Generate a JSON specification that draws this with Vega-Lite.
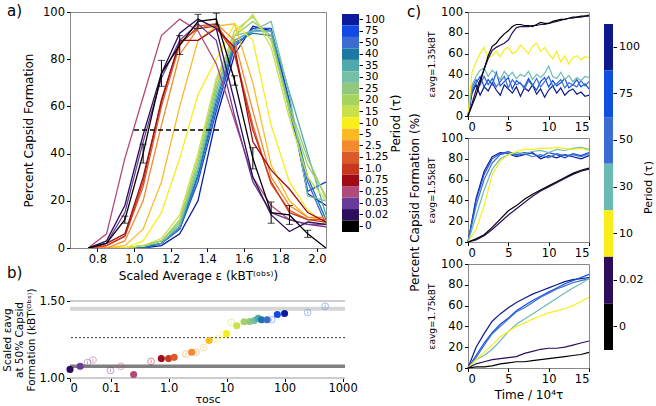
{
"$schema":"https://vega.github.io/schema/vega-lite/v6.json",
"padding":{"left":2,"top":3,"right":0,"bottom":0},
"config":{"font":"DejaVu Sans","view":{"stroke":"#888","strokeWidth":1},"axis":{"labelFontSize":11.5,"titleFontSize":12,"labelColor":"#000","titleColor":"#000","tickColor":"#000","domain":false,"grid":false,"titleFontWeight":"normal","tickSize":3.5,"labelPadding":2},"title":{"fontSize":15,"fontWeight":"normal","color":"#000"}},
"datasets":{
"a":[
{"p":"100","x":0.75,"y":0},{"p":"100","x":0.85,"y":0},{"p":"100","x":0.95,"y":0},{"p":"100","x":1.05,"y":0},{"p":"100","x":1.15,"y":1},{"p":"100","x":1.25,"y":6},{"p":"100","x":1.35,"y":20},{"p":"100","x":1.45,"y":55},{"p":"100","x":1.55,"y":82},{"p":"100","x":1.65,"y":94},{"p":"100","x":1.75,"y":92},{"p":"100","x":1.85,"y":62},{"p":"100","x":1.95,"y":23},{"p":"100","x":2.05,"y":18},
{"p":"75","x":0.75,"y":0},{"p":"75","x":0.85,"y":0},{"p":"75","x":0.95,"y":0},{"p":"75","x":1.05,"y":0},{"p":"75","x":1.15,"y":2},{"p":"75","x":1.25,"y":8},{"p":"75","x":1.35,"y":28},{"p":"75","x":1.45,"y":58},{"p":"75","x":1.55,"y":85},{"p":"75","x":1.65,"y":93},{"p":"75","x":1.75,"y":93},{"p":"75","x":1.85,"y":62},{"p":"75","x":1.95,"y":24},{"p":"75","x":2.05,"y":28},
{"p":"50","x":0.75,"y":0},{"p":"50","x":0.85,"y":0},{"p":"50","x":0.95,"y":0},{"p":"50","x":1.05,"y":0},{"p":"50","x":1.15,"y":2},{"p":"50","x":1.25,"y":8},{"p":"50","x":1.35,"y":30},{"p":"50","x":1.45,"y":60},{"p":"50","x":1.55,"y":86},{"p":"50","x":1.65,"y":92},{"p":"50","x":1.75,"y":92},{"p":"50","x":1.85,"y":58},{"p":"50","x":1.95,"y":28},{"p":"50","x":2.05,"y":10},
{"p":"40","x":0.75,"y":0},{"p":"40","x":0.85,"y":0},{"p":"40","x":0.95,"y":0},{"p":"40","x":1.05,"y":0},{"p":"40","x":1.15,"y":2},{"p":"40","x":1.25,"y":9},{"p":"40","x":1.35,"y":31},{"p":"40","x":1.45,"y":62},{"p":"40","x":1.55,"y":87},{"p":"40","x":1.65,"y":91},{"p":"40","x":1.75,"y":90},{"p":"40","x":1.85,"y":60},{"p":"40","x":1.95,"y":30},{"p":"40","x":2.05,"y":12},
{"p":"35","x":0.75,"y":0},{"p":"35","x":0.85,"y":0},{"p":"35","x":0.95,"y":0},{"p":"35","x":1.05,"y":1},{"p":"35","x":1.15,"y":2},{"p":"35","x":1.25,"y":9},{"p":"35","x":1.35,"y":33},{"p":"35","x":1.45,"y":64},{"p":"35","x":1.55,"y":88},{"p":"35","x":1.65,"y":92},{"p":"35","x":1.75,"y":92},{"p":"35","x":1.85,"y":66},{"p":"35","x":1.95,"y":40},{"p":"35","x":2.05,"y":14},
{"p":"30","x":0.75,"y":0},{"p":"30","x":0.85,"y":0},{"p":"30","x":0.95,"y":0},{"p":"30","x":1.05,"y":1},{"p":"30","x":1.15,"y":3},{"p":"30","x":1.25,"y":10},{"p":"30","x":1.35,"y":34},{"p":"30","x":1.45,"y":66},{"p":"30","x":1.55,"y":90},{"p":"30","x":1.65,"y":92},{"p":"30","x":1.75,"y":96},{"p":"30","x":1.85,"y":65},{"p":"30","x":1.95,"y":22},{"p":"30","x":2.05,"y":20},
{"p":"25","x":0.75,"y":0},{"p":"25","x":0.85,"y":0},{"p":"25","x":0.95,"y":0},{"p":"25","x":1.05,"y":1},{"p":"25","x":1.15,"y":3},{"p":"25","x":1.25,"y":11},{"p":"25","x":1.35,"y":36},{"p":"25","x":1.45,"y":68},{"p":"25","x":1.55,"y":90},{"p":"25","x":1.65,"y":96},{"p":"25","x":1.75,"y":90},{"p":"25","x":1.85,"y":60},{"p":"25","x":1.95,"y":38},{"p":"25","x":2.05,"y":21},
{"p":"20","x":0.75,"y":0},{"p":"20","x":0.85,"y":0},{"p":"20","x":0.95,"y":0},{"p":"20","x":1.05,"y":1},{"p":"20","x":1.15,"y":3},{"p":"20","x":1.25,"y":12},{"p":"20","x":1.35,"y":38},{"p":"20","x":1.45,"y":70},{"p":"20","x":1.55,"y":92},{"p":"20","x":1.65,"y":98},{"p":"20","x":1.75,"y":88},{"p":"20","x":1.85,"y":58},{"p":"20","x":1.95,"y":35},{"p":"20","x":2.05,"y":22},
{"p":"15","x":0.75,"y":0},{"p":"15","x":0.85,"y":0},{"p":"15","x":0.95,"y":0},{"p":"15","x":1.05,"y":1},{"p":"15","x":1.15,"y":4},{"p":"15","x":1.25,"y":14},{"p":"15","x":1.35,"y":40},{"p":"15","x":1.45,"y":72},{"p":"15","x":1.55,"y":90},{"p":"15","x":1.65,"y":99},{"p":"15","x":1.75,"y":85},{"p":"15","x":1.85,"y":55},{"p":"15","x":1.95,"y":30},{"p":"15","x":2.05,"y":20},
{"p":"10","x":0.75,"y":0},{"p":"10","x":0.85,"y":0},{"p":"10","x":0.95,"y":0},{"p":"10","x":1.05,"y":3},{"p":"10","x":1.15,"y":15},{"p":"10","x":1.25,"y":38},{"p":"10","x":1.35,"y":65},{"p":"10","x":1.45,"y":80},{"p":"10","x":1.55,"y":95},{"p":"10","x":1.65,"y":88},{"p":"10","x":1.75,"y":52},{"p":"10","x":1.85,"y":28},{"p":"10","x":1.95,"y":16},{"p":"10","x":2.05,"y":10},
{"p":"5","x":0.75,"y":0},{"p":"5","x":0.85,"y":0},{"p":"5","x":0.95,"y":1},{"p":"5","x":1.05,"y":8},{"p":"5","x":1.15,"y":28},{"p":"5","x":1.25,"y":60},{"p":"5","x":1.35,"y":88},{"p":"5","x":1.45,"y":94},{"p":"5","x":1.55,"y":95},{"p":"5","x":1.65,"y":70},{"p":"5","x":1.75,"y":35},{"p":"5","x":1.85,"y":20},{"p":"5","x":1.95,"y":13},{"p":"5","x":2.05,"y":12},
{"p":"2.5","x":0.75,"y":0},{"p":"2.5","x":0.85,"y":0},{"p":"2.5","x":0.95,"y":3},{"p":"2.5","x":1.05,"y":20},{"p":"2.5","x":1.15,"y":52},{"p":"2.5","x":1.25,"y":82},{"p":"2.5","x":1.35,"y":93},{"p":"2.5","x":1.45,"y":95},{"p":"2.5","x":1.55,"y":88},{"p":"2.5","x":1.65,"y":58},{"p":"2.5","x":1.75,"y":30},{"p":"2.5","x":1.85,"y":18},{"p":"2.5","x":1.95,"y":13},{"p":"2.5","x":2.05,"y":13},
{"p":"1.25","x":0.75,"y":0},{"p":"1.25","x":0.85,"y":1},{"p":"1.25","x":0.95,"y":5},{"p":"1.25","x":1.05,"y":26},{"p":"1.25","x":1.15,"y":60},{"p":"1.25","x":1.25,"y":86},{"p":"1.25","x":1.35,"y":94},{"p":"1.25","x":1.45,"y":95},{"p":"1.25","x":1.55,"y":83},{"p":"1.25","x":1.65,"y":52},{"p":"1.25","x":1.75,"y":27},{"p":"1.25","x":1.85,"y":16},{"p":"1.25","x":1.95,"y":12},{"p":"1.25","x":2.05,"y":12},
{"p":"1.0","x":0.75,"y":0},{"p":"1.0","x":0.85,"y":1},{"p":"1.0","x":0.95,"y":5},{"p":"1.0","x":1.05,"y":28},{"p":"1.0","x":1.15,"y":63},{"p":"1.0","x":1.25,"y":87},{"p":"1.0","x":1.35,"y":93},{"p":"1.0","x":1.45,"y":94},{"p":"1.0","x":1.55,"y":82},{"p":"1.0","x":1.65,"y":50},{"p":"1.0","x":1.75,"y":28},{"p":"1.0","x":1.85,"y":15},{"p":"1.0","x":1.95,"y":12},{"p":"1.0","x":2.05,"y":11},
{"p":"0.75","x":0.75,"y":0},{"p":"0.75","x":0.85,"y":2},{"p":"0.75","x":0.95,"y":6},{"p":"0.75","x":1.05,"y":30},{"p":"0.75","x":1.15,"y":62},{"p":"0.75","x":1.25,"y":88},{"p":"0.75","x":1.35,"y":88},{"p":"0.75","x":1.45,"y":93},{"p":"0.75","x":1.55,"y":85},{"p":"0.75","x":1.65,"y":45},{"p":"0.75","x":1.75,"y":33},{"p":"0.75","x":1.85,"y":25},{"p":"0.75","x":1.95,"y":15},{"p":"0.75","x":2.05,"y":11},
{"p":"0.25","x":0.75,"y":0},{"p":"0.25","x":0.85,"y":6},{"p":"0.25","x":0.95,"y":38},{"p":"0.25","x":1.05,"y":64},{"p":"0.25","x":1.15,"y":90},{"p":"0.25","x":1.25,"y":97},{"p":"0.25","x":1.35,"y":92},{"p":"0.25","x":1.45,"y":78},{"p":"0.25","x":1.55,"y":54},{"p":"0.25","x":1.65,"y":30},{"p":"0.25","x":1.75,"y":18},{"p":"0.25","x":1.85,"y":12},{"p":"0.25","x":1.95,"y":10},{"p":"0.25","x":2.05,"y":10},
{"p":"0.03","x":0.75,"y":0},{"p":"0.03","x":0.85,"y":2},{"p":"0.03","x":0.95,"y":15},{"p":"0.03","x":1.05,"y":45},{"p":"0.03","x":1.15,"y":72},{"p":"0.03","x":1.25,"y":88},{"p":"0.03","x":1.35,"y":95},{"p":"0.03","x":1.45,"y":88},{"p":"0.03","x":1.55,"y":56},{"p":"0.03","x":1.65,"y":28},{"p":"0.03","x":1.75,"y":15},{"p":"0.03","x":1.85,"y":12},{"p":"0.03","x":1.95,"y":10},{"p":"0.03","x":2.05,"y":9},
{"p":"0.02","x":0.75,"y":0},{"p":"0.02","x":0.85,"y":3},{"p":"0.02","x":0.95,"y":18},{"p":"0.02","x":1.05,"y":48},{"p":"0.02","x":1.15,"y":74},{"p":"0.02","x":1.25,"y":91},{"p":"0.02","x":1.35,"y":97},{"p":"0.02","x":1.45,"y":93},{"p":"0.02","x":1.55,"y":62},{"p":"0.02","x":1.65,"y":30},{"p":"0.02","x":1.75,"y":14},{"p":"0.02","x":1.85,"y":7},{"p":"0.02","x":1.95,"y":11},{"p":"0.02","x":2.05,"y":10},
{"p":"0","x":0.75,"y":0},{"p":"0","x":0.85,"y":2},{"p":"0","x":0.95,"y":12},{"p":"0","x":1.05,"y":40},{"p":"0","x":1.15,"y":74},{"p":"0","x":1.25,"y":86},{"p":"0","x":1.35,"y":96},{"p":"0","x":1.45,"y":97},{"p":"0","x":1.55,"y":71},{"p":"0","x":1.65,"y":38},{"p":"0","x":1.75,"y":15},{"p":"0","x":1.85,"y":14},{"p":"0","x":1.95,"y":6},{"p":"0","x":2.05,"y":0}
],
"aerr":[
{"x":0.95,"lo":10.5,"hi":13.5},{"x":1.05,"lo":36,"hi":44},{"x":1.15,"lo":68.5,"hi":79.5},{"x":1.25,"lo":82,"hi":90},{"x":1.35,"lo":93,"hi":99},{"x":1.45,"lo":94.5,"hi":99.5},{"x":1.55,"lo":69,"hi":73},{"x":1.65,"lo":33.5,"hi":42.5},{"x":1.75,"lo":10.5,"hi":19.5},{"x":1.85,"lo":10,"hi":18},{"x":1.95,"lo":4.5,"hi":7.5}
],
"b":[
{"t":0.02,"y":1.056,"p":"0.02","f":1},{"t":0.03,"y":1.076,"p":"0.03","f":1},{"t":0.04,"y":1.10,"p":"0.03","f":0,"lo":1.088,"hi":1.112},{"t":0.05,"y":1.117,"p":"0.25","f":0,"lo":1.105,"hi":1.129},{"t":0.1,"y":1.049,"p":"0.03","f":0,"lo":1.037,"hi":1.061},{"t":0.15,"y":1.076,"p":"0.25","f":0,"lo":1.064,"hi":1.088},{"t":0.25,"y":1.023,"p":"0.25","f":1},{"t":0.5,"y":1.108,"p":"0.75","f":0,"lo":1.096,"hi":1.12},{"t":0.75,"y":1.126,"p":"0.75","f":1},{"t":1.0,"y":1.126,"p":"1.0","f":1},{"t":1.25,"y":1.134,"p":"1.25","f":1},{"t":2,"y":1.156,"p":"2.5","f":0,"lo":1.144,"hi":1.168},{"t":2.5,"y":1.167,"p":"2.5","f":1},{"t":3,"y":1.167,"p":"2.5","f":0,"lo":1.155,"hi":1.179},{"t":4,"y":1.197,"p":"5","f":0,"lo":1.185,"hi":1.209},{"t":5,"y":1.243,"p":"5","f":1},{"t":7,"y":1.254,"p":"10","f":0,"lo":1.242,"hi":1.266},{"t":9,"y":1.286,"p":"10","f":0,"lo":1.274,"hi":1.298},{"t":10,"y":1.288,"p":"10","f":1},{"t":12,"y":1.36,"p":"15","f":0,"lo":1.348,"hi":1.372},{"t":15,"y":1.339,"p":"15","f":1},{"t":20,"y":1.365,"p":"20","f":1},{"t":25,"y":1.367,"p":"25","f":1},{"t":30,"y":1.373,"p":"30","f":1},{"t":35,"y":1.388,"p":"35","f":1},{"t":40,"y":1.378,"p":"40","f":1},{"t":50,"y":1.378,"p":"50","f":1},{"t":60,"y":1.378,"p":"50","f":0,"lo":1.366,"hi":1.39},{"t":75,"y":1.412,"p":"75","f":1},{"t":100,"y":1.419,"p":"100","f":1},{"t":250,"y":1.425,"p":"50","f":0,"lo":1.413,"hi":1.437},{"t":500,"y":1.466,"p":"50","f":0,"lo":1.454,"hi":1.478}
],
"c1":[
{"q":"100","t":0,"v":0},{"q":"100","t":0.5,"v":22},{"q":"100","t":1,"v":30},{"q":"100","t":1.5,"v":20},{"q":"100","t":2,"v":28},{"q":"100","t":2.5,"v":24},{"q":"100","t":3,"v":32},{"q":"100","t":3.5,"v":25},{"q":"100","t":4,"v":20},{"q":"100","t":4.5,"v":30},{"q":"100","t":5,"v":26},{"q":"100","t":5.5,"v":22},{"q":"100","t":6,"v":28},{"q":"100","t":6.5,"v":19},{"q":"100","t":7,"v":27},{"q":"100","t":7.5,"v":24},{"q":"100","t":8,"v":30},{"q":"100","t":8.5,"v":21},{"q":"100","t":9,"v":26},{"q":"100","t":9.5,"v":18},{"q":"100","t":10,"v":25},{"q":"100","t":10.5,"v":29},{"q":"100","t":11,"v":22},{"q":"100","t":11.5,"v":27},{"q":"100","t":12,"v":20},{"q":"100","t":12.5,"v":24},{"q":"100","t":13,"v":26},{"q":"100","t":13.5,"v":21},{"q":"100","t":14,"v":23},{"q":"100","t":14.5,"v":19},{"q":"100","t":15,"v":20},
{"q":"75","t":0,"v":0},{"q":"75","t":0.5,"v":25},{"q":"75","t":1,"v":32},{"q":"75","t":1.5,"v":38},{"q":"75","t":2,"v":28},{"q":"75","t":2.5,"v":35},{"q":"75","t":3,"v":30},{"q":"75","t":3.5,"v":42},{"q":"75","t":4,"v":29},{"q":"75","t":4.5,"v":33},{"q":"75","t":5,"v":37},{"q":"75","t":5.5,"v":26},{"q":"75","t":6,"v":34},{"q":"75","t":6.5,"v":31},{"q":"75","t":7,"v":28},{"q":"75","t":7.5,"v":36},{"q":"75","t":8,"v":30},{"q":"75","t":8.5,"v":25},{"q":"75","t":9,"v":33},{"q":"75","t":9.5,"v":37},{"q":"75","t":10,"v":28},{"q":"75","t":10.5,"v":34},{"q":"75","t":11,"v":29},{"q":"75","t":11.5,"v":32},{"q":"75","t":12,"v":36},{"q":"75","t":12.5,"v":27},{"q":"75","t":13,"v":30},{"q":"75","t":13.5,"v":35},{"q":"75","t":14,"v":28},{"q":"75","t":14.5,"v":31},{"q":"75","t":15,"v":26},
{"q":"50","t":0,"v":0},{"q":"50","t":0.5,"v":28},{"q":"50","t":1,"v":35},{"q":"50","t":1.5,"v":30},{"q":"50","t":2,"v":38},{"q":"50","t":2.5,"v":30},{"q":"50","t":3,"v":36},{"q":"50","t":3.5,"v":28},{"q":"50","t":4,"v":33},{"q":"50","t":4.5,"v":38},{"q":"50","t":5,"v":27},{"q":"50","t":5.5,"v":35},{"q":"50","t":6,"v":30},{"q":"50","t":6.5,"v":32},{"q":"50","t":7,"v":26},{"q":"50","t":7.5,"v":34},{"q":"50","t":8,"v":29},{"q":"50","t":8.5,"v":36},{"q":"50","t":9,"v":28},{"q":"50","t":9.5,"v":33},{"q":"50","t":10,"v":38},{"q":"50","t":10.5,"v":29},{"q":"50","t":11,"v":31},{"q":"50","t":11.5,"v":35},{"q":"50","t":12,"v":27},{"q":"50","t":12.5,"v":32},{"q":"50","t":13,"v":30},{"q":"50","t":13.5,"v":28},{"q":"50","t":14,"v":34},{"q":"50","t":14.5,"v":29},{"q":"50","t":15,"v":33},
{"q":"30","t":0,"v":0},{"q":"30","t":0.5,"v":30},{"q":"30","t":1,"v":38},{"q":"30","t":1.5,"v":44},{"q":"30","t":2,"v":46},{"q":"30","t":2.5,"v":38},{"q":"30","t":3,"v":44},{"q":"30","t":3.5,"v":40},{"q":"30","t":4,"v":35},{"q":"30","t":4.5,"v":43},{"q":"30","t":5,"v":38},{"q":"30","t":5.5,"v":42},{"q":"30","t":6,"v":36},{"q":"30","t":6.5,"v":40},{"q":"30","t":7,"v":38},{"q":"30","t":7.5,"v":43},{"q":"30","t":8,"v":35},{"q":"30","t":8.5,"v":40},{"q":"30","t":9,"v":37},{"q":"30","t":9.5,"v":41},{"q":"30","t":10,"v":48},{"q":"30","t":10.5,"v":38},{"q":"30","t":11,"v":36},{"q":"30","t":11.5,"v":42},{"q":"30","t":12,"v":35},{"q":"30","t":12.5,"v":39},{"q":"30","t":13,"v":33},{"q":"30","t":13.5,"v":37},{"q":"30","t":14,"v":34},{"q":"30","t":14.5,"v":38},{"q":"30","t":15,"v":37},
{"q":"10","t":0,"v":0},{"q":"10","t":0.5,"v":42},{"q":"10","t":1,"v":52},{"q":"10","t":1.5,"v":60},{"q":"10","t":2,"v":66},{"q":"10","t":2.5,"v":56},{"q":"10","t":3,"v":58},{"q":"10","t":3.5,"v":62},{"q":"10","t":4,"v":57},{"q":"10","t":4.5,"v":64},{"q":"10","t":5,"v":66},{"q":"10","t":5.5,"v":60},{"q":"10","t":6,"v":62},{"q":"10","t":6.5,"v":68},{"q":"10","t":7,"v":64},{"q":"10","t":7.5,"v":60},{"q":"10","t":8,"v":67},{"q":"10","t":8.5,"v":70},{"q":"10","t":9,"v":62},{"q":"10","t":9.5,"v":66},{"q":"10","t":10,"v":60},{"q":"10","t":10.5,"v":55},{"q":"10","t":11,"v":62},{"q":"10","t":11.5,"v":52},{"q":"10","t":12,"v":58},{"q":"10","t":12.5,"v":50},{"q":"10","t":13,"v":56},{"q":"10","t":13.5,"v":58},{"q":"10","t":14,"v":54},{"q":"10","t":14.5,"v":57},{"q":"10","t":15,"v":56},
{"q":"0.02","t":0,"v":0},{"q":"0.02","t":0.5,"v":12},{"q":"0.02","t":1,"v":25},{"q":"0.02","t":1.5,"v":35},{"q":"0.02","t":2,"v":45},{"q":"0.02","t":2.5,"v":55},{"q":"0.02","t":3,"v":63},{"q":"0.02","t":3.5,"v":66},{"q":"0.02","t":4,"v":68},{"q":"0.02","t":4.5,"v":70},{"q":"0.02","t":5,"v":73},{"q":"0.02","t":5.5,"v":80},{"q":"0.02","t":6,"v":85},{"q":"0.02","t":6.5,"v":86},{"q":"0.02","t":7,"v":86},{"q":"0.02","t":7.5,"v":86},{"q":"0.02","t":8,"v":87},{"q":"0.02","t":8.5,"v":87},{"q":"0.02","t":9,"v":88},{"q":"0.02","t":9.5,"v":88},{"q":"0.02","t":10,"v":89},{"q":"0.02","t":10.5,"v":90},{"q":"0.02","t":11,"v":91},{"q":"0.02","t":11.5,"v":92},{"q":"0.02","t":12,"v":93},{"q":"0.02","t":12.5,"v":94},{"q":"0.02","t":13,"v":94},{"q":"0.02","t":13.5,"v":95},{"q":"0.02","t":14,"v":95},{"q":"0.02","t":14.5,"v":96},{"q":"0.02","t":15,"v":96},
{"q":"0","t":0,"v":0},{"q":"0","t":0.5,"v":10},{"q":"0","t":1,"v":20},{"q":"0","t":1.5,"v":32},{"q":"0","t":2,"v":45},{"q":"0","t":2.5,"v":58},{"q":"0","t":3,"v":67},{"q":"0","t":3.5,"v":70},{"q":"0","t":4,"v":75},{"q":"0","t":4.5,"v":79},{"q":"0","t":5,"v":82},{"q":"0","t":5.5,"v":86},{"q":"0","t":6,"v":88},{"q":"0","t":6.5,"v":88},{"q":"0","t":7,"v":87},{"q":"0","t":7.5,"v":87},{"q":"0","t":8,"v":86},{"q":"0","t":8.5,"v":88},{"q":"0","t":9,"v":90},{"q":"0","t":9.5,"v":89},{"q":"0","t":10,"v":89},{"q":"0","t":10.5,"v":91},{"q":"0","t":11,"v":92},{"q":"0","t":11.5,"v":93},{"q":"0","t":12,"v":93},{"q":"0","t":12.5,"v":94},{"q":"0","t":13,"v":95},{"q":"0","t":13.5,"v":95},{"q":"0","t":14,"v":96},{"q":"0","t":14.5,"v":96},{"q":"0","t":15,"v":97}
],
"c2":[
{"q":"100","t":0,"v":0},{"q":"100","t":1,"v":42},{"q":"100","t":2,"v":68},{"q":"100","t":3,"v":82},{"q":"100","t":4,"v":86},{"q":"100","t":5,"v":85},{"q":"100","t":6,"v":82},{"q":"100","t":7,"v":84},{"q":"100","t":8,"v":86},{"q":"100","t":9,"v":80},{"q":"100","t":10,"v":83},{"q":"100","t":11,"v":81},{"q":"100","t":12,"v":84},{"q":"100","t":13,"v":82},{"q":"100","t":14,"v":80},{"q":"100","t":15,"v":83},
{"q":"75","t":0,"v":0},{"q":"75","t":1,"v":40},{"q":"75","t":2,"v":65},{"q":"75","t":3,"v":80},{"q":"75","t":4,"v":85},{"q":"75","t":5,"v":87},{"q":"75","t":6,"v":84},{"q":"75","t":7,"v":86},{"q":"75","t":8,"v":85},{"q":"75","t":9,"v":82},{"q":"75","t":10,"v":86},{"q":"75","t":11,"v":84},{"q":"75","t":12,"v":81},{"q":"75","t":13,"v":85},{"q":"75","t":14,"v":83},{"q":"75","t":15,"v":86},
{"q":"50","t":0,"v":0},{"q":"50","t":1,"v":35},{"q":"50","t":2,"v":60},{"q":"50","t":3,"v":76},{"q":"50","t":4,"v":84},{"q":"50","t":5,"v":86},{"q":"50","t":6,"v":83},{"q":"50","t":7,"v":85},{"q":"50","t":8,"v":82},{"q":"50","t":9,"v":84},{"q":"50","t":10,"v":81},{"q":"50","t":11,"v":85},{"q":"50","t":12,"v":83},{"q":"50","t":13,"v":84},{"q":"50","t":14,"v":82},{"q":"50","t":15,"v":85},
{"q":"30","t":0,"v":0},{"q":"30","t":1,"v":25},{"q":"30","t":2,"v":50},{"q":"30","t":3,"v":70},{"q":"30","t":4,"v":80},{"q":"30","t":5,"v":84},{"q":"30","t":6,"v":86},{"q":"30","t":7,"v":85},{"q":"30","t":8,"v":87},{"q":"30","t":9,"v":88},{"q":"30","t":10,"v":86},{"q":"30","t":11,"v":89},{"q":"30","t":12,"v":88},{"q":"30","t":13,"v":90},{"q":"30","t":14,"v":91},{"q":"30","t":15,"v":89},
{"q":"10","t":0,"v":0},{"q":"10","t":1,"v":12},{"q":"10","t":2,"v":35},{"q":"10","t":3,"v":65},{"q":"10","t":4,"v":78},{"q":"10","t":5,"v":84},{"q":"10","t":6,"v":87},{"q":"10","t":7,"v":89},{"q":"10","t":8,"v":89},{"q":"10","t":9,"v":90},{"q":"10","t":10,"v":90},{"q":"10","t":11,"v":91},{"q":"10","t":12,"v":90},{"q":"10","t":13,"v":89},{"q":"10","t":14,"v":90},{"q":"10","t":15,"v":88},
{"q":"0.02","t":0,"v":0},{"q":"0.02","t":1,"v":2},{"q":"0.02","t":2,"v":6},{"q":"0.02","t":3,"v":12},{"q":"0.02","t":4,"v":19},{"q":"0.02","t":5,"v":26},{"q":"0.02","t":6,"v":32},{"q":"0.02","t":7,"v":38},{"q":"0.02","t":8,"v":44},{"q":"0.02","t":9,"v":49},{"q":"0.02","t":10,"v":53},{"q":"0.02","t":11,"v":57},{"q":"0.02","t":12,"v":61},{"q":"0.02","t":13,"v":65},{"q":"0.02","t":14,"v":68},{"q":"0.02","t":15,"v":70},
{"q":"0","t":0,"v":0},{"q":"0","t":1,"v":3},{"q":"0","t":2,"v":7},{"q":"0","t":3,"v":14},{"q":"0","t":4,"v":22},{"q":"0","t":5,"v":30},{"q":"0","t":6,"v":35},{"q":"0","t":7,"v":41},{"q":"0","t":8,"v":46},{"q":"0","t":9,"v":50},{"q":"0","t":10,"v":54},{"q":"0","t":11,"v":58},{"q":"0","t":12,"v":62},{"q":"0","t":13,"v":66},{"q":"0","t":14,"v":69},{"q":"0","t":15,"v":71}
],
"c3":[
{"q":"100","t":0,"v":0},{"q":"100","t":1,"v":20},{"q":"100","t":2,"v":33},{"q":"100","t":3,"v":45},{"q":"100","t":4,"v":52},{"q":"100","t":5,"v":58},{"q":"100","t":6,"v":63},{"q":"100","t":7,"v":67},{"q":"100","t":8,"v":71},{"q":"100","t":9,"v":74},{"q":"100","t":10,"v":77},{"q":"100","t":11,"v":80},{"q":"100","t":12,"v":83},{"q":"100","t":13,"v":85},{"q":"100","t":14,"v":86},{"q":"100","t":15,"v":87},
{"q":"75","t":0,"v":0},{"q":"75","t":1,"v":12},{"q":"75","t":2,"v":24},{"q":"75","t":3,"v":34},{"q":"75","t":4,"v":42},{"q":"75","t":5,"v":48},{"q":"75","t":6,"v":55},{"q":"75","t":7,"v":60},{"q":"75","t":8,"v":65},{"q":"75","t":9,"v":69},{"q":"75","t":10,"v":73},{"q":"75","t":11,"v":77},{"q":"75","t":12,"v":81},{"q":"75","t":13,"v":84},{"q":"75","t":14,"v":87},{"q":"75","t":15,"v":90},
{"q":"50","t":0,"v":0},{"q":"50","t":1,"v":10},{"q":"50","t":2,"v":22},{"q":"50","t":3,"v":33},{"q":"50","t":4,"v":40},{"q":"50","t":5,"v":47},{"q":"50","t":6,"v":54},{"q":"50","t":7,"v":58},{"q":"50","t":8,"v":63},{"q":"50","t":9,"v":68},{"q":"50","t":10,"v":72},{"q":"50","t":11,"v":76},{"q":"50","t":12,"v":79},{"q":"50","t":13,"v":82},{"q":"50","t":14,"v":84},{"q":"50","t":15,"v":86},
{"q":"30","t":0,"v":0},{"q":"30","t":1,"v":8},{"q":"30","t":2,"v":12},{"q":"30","t":3,"v":18},{"q":"30","t":4,"v":26},{"q":"30","t":5,"v":35},{"q":"30","t":6,"v":42},{"q":"30","t":7,"v":47},{"q":"30","t":8,"v":52},{"q":"30","t":9,"v":57},{"q":"30","t":10,"v":62},{"q":"30","t":11,"v":67},{"q":"30","t":12,"v":72},{"q":"30","t":13,"v":77},{"q":"30","t":14,"v":81},{"q":"30","t":15,"v":86},
{"q":"10","t":0,"v":0},{"q":"10","t":1,"v":8},{"q":"10","t":2,"v":15},{"q":"10","t":3,"v":22},{"q":"10","t":4,"v":30},{"q":"10","t":5,"v":35},{"q":"10","t":6,"v":40},{"q":"10","t":7,"v":43},{"q":"10","t":8,"v":47},{"q":"10","t":9,"v":50},{"q":"10","t":10,"v":53},{"q":"10","t":11,"v":55},{"q":"10","t":12,"v":57},{"q":"10","t":13,"v":60},{"q":"10","t":14,"v":64},{"q":"10","t":15,"v":68},
{"q":"0.02","t":0,"v":0},{"q":"0.02","t":1,"v":4},{"q":"0.02","t":2,"v":6},{"q":"0.02","t":3,"v":8},{"q":"0.02","t":4,"v":9},{"q":"0.02","t":5,"v":10},{"q":"0.02","t":6,"v":11},{"q":"0.02","t":7,"v":14},{"q":"0.02","t":8,"v":16},{"q":"0.02","t":9,"v":18},{"q":"0.02","t":10,"v":19},{"q":"0.02","t":11,"v":19},{"q":"0.02","t":12,"v":20},{"q":"0.02","t":13,"v":22},{"q":"0.02","t":14,"v":24},{"q":"0.02","t":15,"v":26},
{"q":"0","t":0,"v":0},{"q":"0","t":1,"v":1},{"q":"0","t":2,"v":1},{"q":"0","t":3,"v":2},{"q":"0","t":4,"v":4},{"q":"0","t":5,"v":5},{"q":"0","t":6,"v":6},{"q":"0","t":7,"v":6},{"q":"0","t":8,"v":7},{"q":"0","t":9,"v":8},{"q":"0","t":10,"v":9},{"q":"0","t":11,"v":10},{"q":"0","t":12,"v":11},{"q":"0","t":13,"v":12},{"q":"0","t":14,"v":13},{"q":"0","t":15,"v":15}
]
},
"spacing":4,
"resolve":{"scale":{"color":"independent"}},
"hconcat":[
{"spacing":-17,"resolve":{"scale":{"color":"independent"}},"vconcat":[
 {"bounds":"flush","spacing":16,"resolve":{"scale":{"color":"independent"}},"hconcat":[
  {"width":256,"height":236,
   "title":{"text":"a)","anchor":"start","frame":"group","dx":-63,"offset":-13},
   "data":{"name":"a"},
   "layer":[
    {"transform":[{"filter":"datum.p != '0'"}],"mark":{"type":"line","strokeWidth":1.3,"clip":true},
     "encoding":{
      "x":{"field":"x","type":"quantitative","title":"Scaled Average ε (kBT⁽ᵒᵇˢ⁾)","scale":{"domain":[0.65,2.05],"nice":false,"zero":false},"axis":{"values":[0.8,1,1.2,1.4,1.6,1.8,2],"format":".1f","titlePadding":5}},
      "y":{"field":"y","type":"quantitative","title":"Percent Capsid Formation","scale":{"domain":[0,100],"nice":false},"axis":{"values":[0,20,40,60,80,100],"titlePadding":7}},
      "color":{"field":"p","type":"nominal","scale":{"domain":["0","0.02","0.03","0.25","0.75","1.0","1.25","2.5","5","10","15","20","25","30","35","40","50","75","100"],"range":["#000000","#2c0e5c","#6a3a9a","#b04a78","#a00a14","#c8381e","#dc5a2a","#f28a2c","#fbba22","#f8ee1a","#c9e04a","#a6d45e","#92c87e","#74c0a6","#4ea8ac","#1a78a4","#3a6cd2","#1148e6","#0c1a9c"]},"legend":null}}},
    {"transform":[{"filter":"datum.p == '0'"}],"mark":{"type":"line","strokeWidth":1.3,"color":"#000","clip":true},
     "encoding":{"x":{"field":"x","type":"quantitative","title":"Scaled Average ε (kBT⁽ᵒᵇˢ⁾)"},"y":{"field":"y","type":"quantitative","title":"Percent Capsid Formation"}}},
    {"data":{"name":"aerr"},"mark":{"type":"errorbar","ticks":true,"color":"#000","size":7},
     "encoding":{"x":{"field":"x","type":"quantitative","title":"Scaled Average ε (kBT⁽ᵒᵇˢ⁾)"},"y":{"field":"lo","type":"quantitative","title":"Percent Capsid Formation"},"y2":{"field":"hi"}}},
    {"data":{"values":[{"x1":1.0,"x2":1.47,"y":50}]},"mark":{"type":"rule","strokeDash":[5,3],"color":"#000","strokeWidth":1.3},
     "encoding":{"x":{"field":"x1","type":"quantitative","title":"Scaled Average ε (kBT⁽ᵒᵇˢ⁾)"},"x2":{"field":"x2"},"y":{"field":"y","type":"quantitative","title":"Percent Capsid Formation"}}}
   ]},
  {"width":17,"height":220,"view":{"stroke":null},
   "data":{"values":[{"p":"100"},{"p":"75"},{"p":"50"},{"p":"40"},{"p":"35"},{"p":"30"},{"p":"25"},{"p":"20"},{"p":"15"},{"p":"10"},{"p":"5"},{"p":"2.5"},{"p":"1.25"},{"p":"1.0"},{"p":"0.75"},{"p":"0.25"},{"p":"0.03"},{"p":"0.02"},{"p":"0"}]},
   "mark":{"type":"rect"},
   "encoding":{
    "x":{"datum":0,"type":"quantitative","scale":{"domain":[0,1]},"axis":null},
    "x2":{"datum":1},
    "y":{"field":"p","type":"ordinal","sort":null,"scale":{"domain":["100","75","50","40","35","30","25","20","15","10","5","2.5","1.25","1.0","0.75","0.25","0.03","0.02","0"],"range":[2,220],"paddingInner":0,"paddingOuter":0},"axis":{"orient":"right","title":"Period (τ)","titleAngle":-90,"titleBaseline":"top","titleFontSize":12,"labelFontSize":10.5,"titlePadding":3}},
    "color":{"field":"p","type":"nominal","scale":{"domain":["0","0.02","0.03","0.25","0.75","1.0","1.25","2.5","5","10","15","20","25","30","35","40","50","75","100"],"range":["#000000","#2c0e5c","#6a3a9a","#b04a78","#a00a14","#c8381e","#dc5a2a","#f28a2c","#fbba22","#f8ee1a","#c9e04a","#a6d45e","#92c87e","#74c0a6","#4ea8ac","#1a78a4","#3a6cd2","#1148e6","#0c1a9c"]},"legend":null}}}
 ]},
 {"width":275,"height":77,"view":{"stroke":null},
  "title":{"text":"b)","anchor":"start","frame":"group","dx":-63,"offset":7},
  "data":{"name":"b"},
  "layer":[
   {"data":{"values":[{"y1":1.436,"y2":1.462}]},"mark":{"type":"rect","color":"#d6d6d6"},
    "encoding":{"x":{"datum":0.02,"type":"quantitative"},"x2":{"datum":1100},"y":{"field":"y1","type":"quantitative"},"y2":{"field":"y2"}}},
   {"data":{"values":[{"y1":1.065,"y2":1.088}]},"mark":{"type":"rect","color":"#808080"},
    "encoding":{"x":{"datum":0.02,"type":"quantitative"},"x2":{"datum":1100},"y":{"field":"y1","type":"quantitative"},"y2":{"field":"y2"}}},
   {"data":{"values":[{"y":1.0},{"y":1.5}]},"mark":{"type":"rule","color":"#bdbdbd","strokeWidth":1.5},
    "encoding":{"y":{"field":"y","type":"quantitative"}}},
   {"data":{"values":[{"y":1.262}]},"mark":{"type":"rule","color":"#333","strokeWidth":1,"strokeDash":[2,2]},
    "encoding":{"y":{"field":"y","type":"quantitative"}}},
   {"transform":[{"filter":"datum.f == 0"}],"mark":{"type":"rule","strokeWidth":1,"opacity":0.45},
    "encoding":{"x":{"field":"t","type":"quantitative"},"y":{"field":"lo","type":"quantitative"},"y2":{"field":"hi"},"color":{"field":"p","type":"nominal","legend":null}}},
   {"transform":[{"filter":"datum.f == 0"}],"mark":{"type":"point","filled":false,"size":45,"strokeWidth":1,"opacity":0.45},
    "encoding":{"x":{"field":"t","type":"quantitative"},"y":{"field":"y","type":"quantitative"},"color":{"field":"p","type":"nominal","legend":null}}},
   {"transform":[{"filter":"datum.f == 1"}],"mark":{"type":"point","filled":true,"size":50,"opacity":1},
    "encoding":{
     "x":{"field":"t","type":"quantitative","scale":{"type":"log","domain":[0.02,1100],"nice":false},"axis":{"values":[0.02,0.1,1,10,100,1000],"labelExpr":"datum.value < 0.05 ? '0' : datum.value == 0.1 ? '0.1' : datum.value == 1 ? '1.0' : format(datum.value, 'd')","title":"τosc","titleFontSize":11,"titlePadding":0,"labelPadding":0.5}},
     "y":{"field":"y","type":"quantitative","scale":{"domain":[1,1.5],"nice":false,"zero":false},"axis":{"values":[1,1.25,1.5],"format":".2f","title":["Scaled εavg","at 50% Capsid","Formation (kBT⁽ᴼᵇˢ⁾)"],"titleFontSize":10.5,"titlePadding":2,"titleLineHeight":12}},
     "color":{"field":"p","type":"nominal","scale":{"domain":["0","0.02","0.03","0.25","0.75","1.0","1.25","2.5","5","10","15","20","25","30","35","40","50","75","100"],"range":["#000000","#2c0e5c","#6a3a9a","#b04a78","#a00a14","#c8381e","#dc5a2a","#f28a2c","#fbba22","#f8ee1a","#c9e04a","#a6d45e","#92c87e","#74c0a6","#4ea8ac","#1a78a4","#3a6cd2","#1148e6","#0c1a9c"]},"legend":null}}}
  ]}
]},
{"spacing":12,"resolve":{"scale":{"color":"independent"}},"hconcat":[
 {"bounds":"flush","spacing":22,"resolve":{"scale":{"color":"independent"}},
  "title":{"text":"Percent Capsid Formation (%)","orient":"left","anchor":"middle","fontSize":12,"offset":-15},
  "vconcat":[
  {"width":121,"height":104,"data":{"name":"c1"},
   "title":{"text":"c)","anchor":"start","frame":"group","dx":-61,"offset":-14},
   "mark":{"type":"line","strokeWidth":1.2},
   "encoding":{
    "x":{"field":"t","type":"quantitative","scale":{"domain":[0,15],"nice":false},"axis":{"values":[0,5,10,15],"title":null}},
    "y":{"field":"v","type":"quantitative","scale":{"domain":[0,100],"nice":false},"axis":{"values":[0,20,40,60,80,100],"title":"εavg=1.35kBT","titleFontSize":9,"titlePadding":4}},
    "color":{"field":"q","type":"nominal","scale":{"domain":["0","0.02","10","30","50","75","100"],"range":["#000000","#2c0e5c","#f8ee1a","#6cbab4","#3a6cd2","#1050e0","#0c1a8c"]},"legend":null}}},
  {"width":121,"height":104,"data":{"name":"c2"},
   "mark":{"type":"line","strokeWidth":1.2},
   "encoding":{
    "x":{"field":"t","type":"quantitative","scale":{"domain":[0,15],"nice":false},"axis":{"values":[0,5,10,15],"title":null}},
    "y":{"field":"v","type":"quantitative","scale":{"domain":[0,100],"nice":false},"axis":{"values":[0,20,40,60,80,100],"title":"εavg=1.55kBT","titleFontSize":9,"titlePadding":4}},
    "color":{"field":"q","type":"nominal","scale":{"domain":["0","0.02","10","30","50","75","100"],"range":["#000000","#2c0e5c","#f8ee1a","#6cbab4","#3a6cd2","#1050e0","#0c1a8c"]},"legend":null}}},
  {"width":121,"height":104,"data":{"name":"c3"},
   "mark":{"type":"line","strokeWidth":1.2},
   "encoding":{
    "x":{"field":"t","type":"quantitative","scale":{"domain":[0,15],"nice":false},"axis":{"values":[0,5,10,15],"title":"Time / 10⁴τ","titlePadding":4}},
    "y":{"field":"v","type":"quantitative","scale":{"domain":[0,100],"nice":false},"axis":{"values":[0,20,40,60,80,100],"title":"εavg=1.75kBT","titleFontSize":9,"titlePadding":4}},
    "color":{"field":"q","type":"nominal","scale":{"domain":["0","0.02","10","30","50","75","100"],"range":["#000000","#2c0e5c","#f8ee1a","#6cbab4","#3a6cd2","#1050e0","#0c1a8c"]},"legend":null}}}
 ]},
 {"width":9,"height":338,"view":{"stroke":null},
  "data":{"values":[{"q":"100"},{"q":"75"},{"q":"50"},{"q":"30"},{"q":"10"},{"q":"0.02"},{"q":"0"}]},
  "mark":{"type":"rect"},
  "encoding":{
   "x":{"datum":0,"type":"quantitative","scale":{"domain":[0,1]},"axis":null},
   "x2":{"datum":1},
   "y":{"field":"q","type":"ordinal","sort":null,"scale":{"domain":["100","75","50","30","10","0.02","0"],"range":[12,338],"paddingInner":0,"paddingOuter":0},"axis":{"orient":"right","title":"Period (τ)","titleAngle":-90,"titleBaseline":"top","titleFontSize":11,"labelFontSize":11,"titlePadding":0}},
   "color":{"field":"q","type":"nominal","scale":{"domain":["0","0.02","10","30","50","75","100"],"range":["#000000","#2c0e5c","#f8ee1a","#6cbab4","#3a6cd2","#1050e0","#0c1a8c"]},"legend":null}}}
]}
]
}
